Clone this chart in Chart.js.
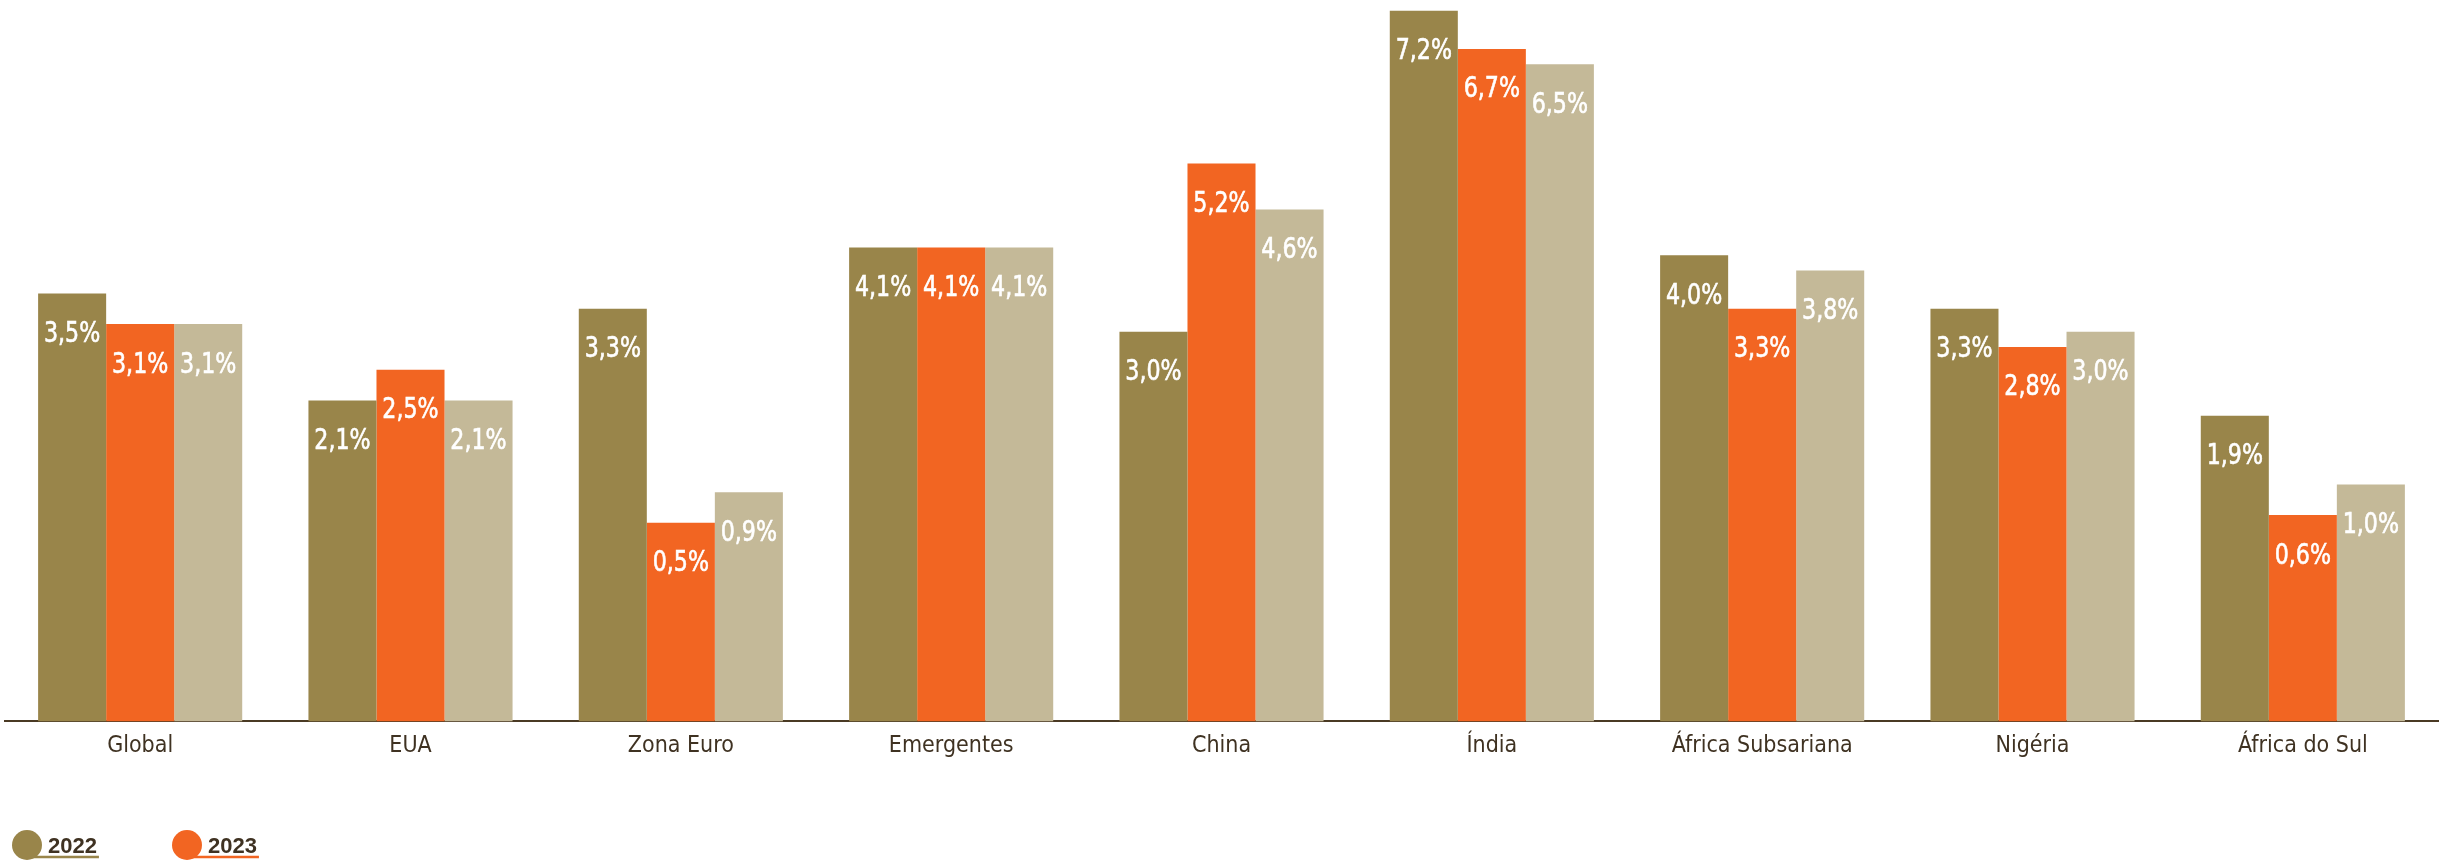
<!DOCTYPE html>
<html lang="pt">
<head>
<meta charset="utf-8">
<title>Crescimento do PIB</title>
<script src="https://cdn.jsdelivr.net/npm/chart.js@4.4.1/dist/chart.umd.min.js"></script>
<style>
    html, body { margin: 0; padding: 0; background: #ffffff; }
    #wrap { position: relative; width: 2444px; height: 861px; }
</style>
</head>
<body>
<div id="wrap"><canvas id="growthChart"></canvas></div>
<script>
// Regiões / países
const categories = ['Global', 'EUA', 'Zona Euro', 'Emergentes', 'China', 'Índia', 'África Subsariana', 'Nigéria', 'África do Sul'];

// Crescimento (%) por ano
const values2022 = [3.5, 2.1, 3.3, 4.1, 3.0, 7.2, 4.0, 3.3, 1.9];
const values2023 = [3.1, 2.5, 0.5, 4.1, 5.2, 6.7, 3.3, 2.8, 0.6];
const values2024 = [3.1, 2.1, 0.9, 4.1, 4.6, 6.5, 3.8, 3.0, 1.0];

const seriesLabels = ['2022', '2023', '2024'];
const seriesColors = ['#99854a', '#f26522', '#c4b998'];

// limites do eixo vertical (o eixo não é desenhado)
const yMin = -2.1;
const yMax = 7.34;

const condFont = "'DejaVu Sans Condensed', 'DejaVu Sans', sans-serif";
const inkColor = '#3f3222';

function fmtPct(v) {
    return v.toFixed(1).replace('.', ',') + '%';
}

// rótulos brancos dentro do topo de cada barra (texto comprimido na horizontal)
const barLabels = {
    id: 'barLabels',
    afterDatasetsDraw(chart) {
        const ctx = chart.ctx;
        chart.data.datasets.forEach((ds, i) => {
            chart.getDatasetMeta(i).data.forEach((bar, j) => {
                ctx.save();
                ctx.translate(bar.x, bar.y + 41);
                ctx.scale(0.85, 1);
                ctx.fillStyle = '#ffffff';
                ctx.strokeStyle = '#ffffff';
                ctx.lineWidth = 0.6;
                ctx.font = '29px ' + condFont;
                ctx.textAlign = 'center';
                ctx.textBaseline = 'middle';
                ctx.fillText(fmtPct(ds.data[j]), 0, 0);
                ctx.strokeText(fmtPct(ds.data[j]), 0, 0);
                ctx.restore();
            });
        });
    }
};

// legenda: círculo + ano sublinhado, só para os anos marcados
const underlineLegend = {
    id: 'underlineLegend',
    afterDraw(chart) {
        const ctx = chart.ctx;
        const cy = chart.height - 16;
        let cx = 27;
        ctx.save();
        ctx.font = "bold 22px 'Liberation Sans', 'DejaVu Sans', sans-serif";
        chart.data.datasets.forEach(ds => {
            if (ds.inLegend === false) return;
            const tx = cx + 21;
            const tw = ctx.measureText(ds.label).width;
            ctx.strokeStyle = ds.backgroundColor;
            ctx.lineWidth = 2.5;
            ctx.beginPath();
            ctx.moveTo(cx, cy + 12);
            ctx.lineTo(tx + tw + 2, cy + 12);
            ctx.stroke();
            ctx.fillStyle = ds.backgroundColor;
            ctx.beginPath();
            ctx.arc(cx, cy, 15, 0, Math.PI * 2);
            ctx.fill();
            ctx.fillStyle = inkColor;
            ctx.textBaseline = 'alphabetic';
            ctx.fillText(ds.label, tx, cy + 8);
            cx += 160;
        });
        ctx.restore();
    }
};

const ctx = document.getElementById('growthChart').getContext('2d');
const chart = new Chart(ctx, {
    type: 'bar',
    data: {
        labels: categories,
        datasets: [
            { label: seriesLabels[0], data: values2022, backgroundColor: seriesColors[0] },
            { label: seriesLabels[1], data: values2023, backgroundColor: seriesColors[1] },
            { label: seriesLabels[2], data: values2024, backgroundColor: seriesColors[2], inLegend: false }
        ]
    },
    options: {
        responsive: true,
        maintainAspectRatio: false,
        animation: false,
        layout: {
            padding: { top: 0, left: 5, right: 6, bottom: 90 }
        },
        datasets: {
            bar: {
                base: yMin,
                categoryPercentage: 0.755,
                barPercentage: 1.0,
                borderWidth: 0
            }
        },
        scales: {
            x: {
                grid: { display: false, drawTicks: false },
                border: { display: true, color: '#4a3a24', width: 2 },
                ticks: {
                    color: inkColor,
                    padding: 11,
                    font: { family: condFont, size: 23 }
                }
            },
            y: {
                display: false,
                min: yMin,
                max: yMax
            }
        },
        plugins: {
            legend: { display: false },
            tooltip: { enabled: false }
        }
    },
    plugins: [barLabels, underlineLegend]
});
</script>
</body>
</html>
